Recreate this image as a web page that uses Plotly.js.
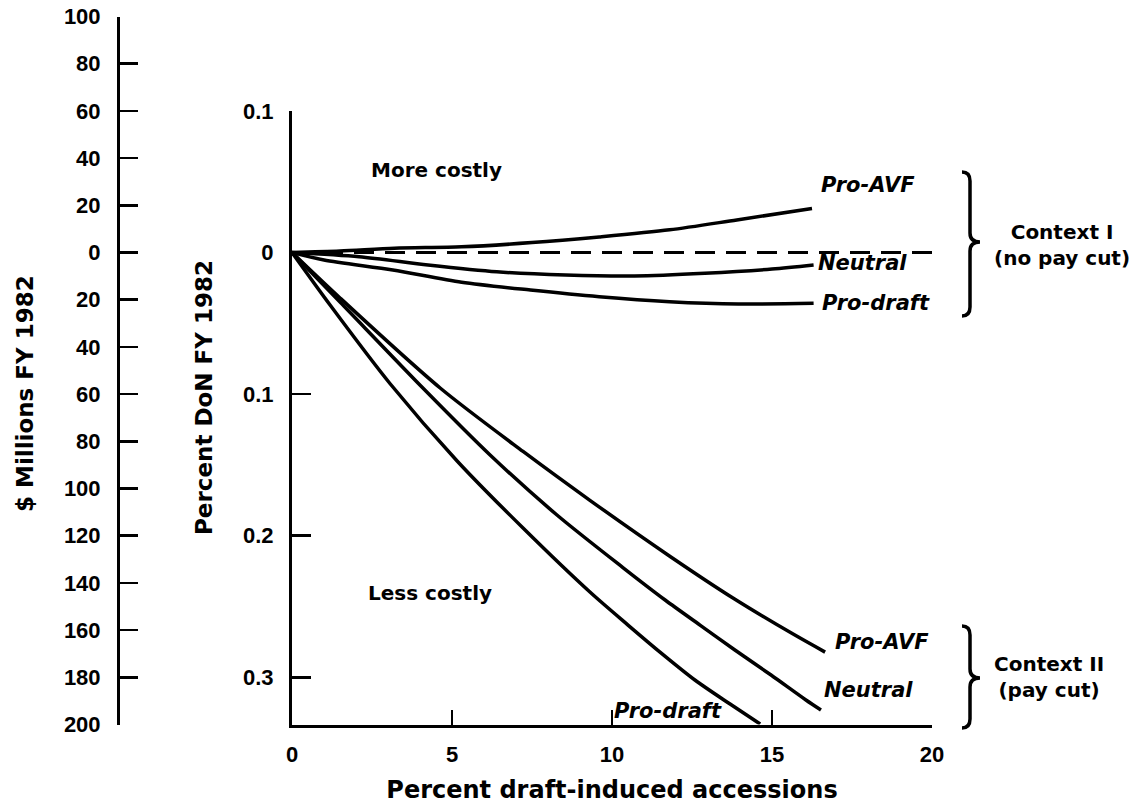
<!DOCTYPE html>
<html>
<head>
<meta charset="utf-8">
<script src="https://cdn.plot.ly/plotly-3.0.1.min.js"></script>
<style>html,body{margin:0;padding:0;background:#fff;}#chart{width:1135px;height:811px;}</style>
</head>
<body>
<div id="chart"></div>
<script>
// ---- data ----
const xTicks = [0, 5, 10, 15, 20];
const donTickVals = [0.1, 0, -0.1, -0.2, -0.3];
const donTickText = ['0.1', '0', '0.1', '0.2', '0.3'];
const usdTickVals = [100, 80, 60, 40, 20, 0, -20, -40, -60, -80, -100, -120, -140, -160, -180, -200];
const usdTickText = ['100', '80', '60', '40', '20', '0', '20', '40', '60', '80', '100', '120', '140', '160', '180', '200'];

const zeroLineX = [0, 20];
const zeroLineY = [0, 0];

// Context I (no pay cut)
const c1ProAvfX = [0, 1.5, 3.2, 5.3, 7.5, 9.6, 11.8, 13.9, 16.25];
const c1ProAvfY = [0, 0.001, 0.003, 0.004, 0.007, 0.011, 0.016, 0.023, 0.031];
const c1NeutralX = [0, 2.1, 4.25, 6.4, 8.55, 10.7, 12.9, 15.0, 16.3];
const c1NeutralY = [0, -0.003, -0.0088, -0.0136, -0.0159, -0.0166, -0.0147, -0.0117, -0.0088];
const c1ProDraftX = [0, 1.0, 3.15, 5.3, 7.45, 9.6, 11.8, 13.95, 16.3];
const c1ProDraftY = [0, -0.0053, -0.0124, -0.021, -0.0265, -0.0312, -0.0347, -0.0364, -0.0359];

// Context II (pay cut)
const c2ProAvfX = [0, 1.5, 4.63, 7.22, 9.31, 11.84, 13.78, 15.66, 16.66];
const c2ProAvfY = [0, -0.0321, -0.0957, -0.1405, -0.175, -0.215, -0.244, -0.2695, -0.2822];
const c2NeutralX = [0, 1.5, 4.09, 6.19, 8.28, 10.34, 11.66, 12.75, 13.84, 14.97, 16.06, 16.53];
const c2NeutralY = [0, -0.035, -0.0957, -0.143, -0.1854, -0.2225, -0.2454, -0.2631, -0.2807, -0.2984, -0.316, -0.3231];
const c2ProDraftX = [0, 1.19, 3.06, 5.16, 7.22, 9.31, 10.5, 11.5, 12.59, 13.69, 14.63];
const c2ProDraftY = [0, -0.0371, -0.0925, -0.1472, -0.1946, -0.2398, -0.2631, -0.2822, -0.3019, -0.3189, -0.333];

// ---- layout helpers (pixel -> paper) ----
const W = 1135, H = 811;
const PX = v => v / W;
const PY = v => 1 - v / H;
const FONT = 'DejaVu Sans, Liberation Sans, Arial, sans-serif';
const TICKFONT = 'Liberation Sans, Arial, Helvetica, sans-serif';

function curve(x, y) {
  return {
    x: x, y: y, xaxis: 'x', yaxis: 'y2', type: 'scatter', mode: 'lines',
    line: {color: '#000', width: 3.5, shape: 'spline', smoothing: 0.8},
    hoverinfo: 'skip', showlegend: false, cliponaxis: false
  };
}

const traces = [
  {x: zeroLineX, y: zeroLineY, xaxis: 'x', yaxis: 'y', type: 'scatter', mode: 'lines',
   line: {color: '#000', width: 2.8, dash: '20px,11px'}, hoverinfo: 'skip', showlegend: false},
  curve(c1ProAvfX, c1ProAvfY),
  curve(c1NeutralX, c1NeutralY),
  curve(c1ProDraftX, c1ProDraftY),
  curve(c2ProAvfX, c2ProAvfY),
  curve(c2NeutralX, c2NeutralY),
  curve(c2ProDraftX, c2ProDraftY)
];

function pathFrom(list) {
  let s = '';
  let i = 0;
  while (i < list.length) {
    const c = list[i++];
    s += c;
    const coords = [];
    while (i < list.length && typeof list[i] !== 'string') coords.push(list[i++]);
    for (let k = 0; k < coords.length; k += 2) s += ' ' + coords[k].toFixed(5) + ',' + coords[k + 1].toFixed(5);
    s += ' ';
  }
  return s.trim();
}
function bracePath(xl, xm, xt, yTop, yTip, yBot) {
  const r = 9;
  return pathFrom([
    'M', PX(xl), PY(yTop),
    'Q', PX(xm), PY(yTop), PX(xm), PY(yTop + r),
    'L', PX(xm), PY(yTip - r),
    'Q', PX(xm), PY(yTip), PX(xt), PY(yTip),
    'Q', PX(xm), PY(yTip), PX(xm), PY(yTip + r),
    'L', PX(xm), PY(yBot - r),
    'Q', PX(xm), PY(yBot), PX(xl), PY(yBot)
  ]);
}

const shapes = [
  {type: 'path', xref: 'paper', yref: 'paper', path: bracePath(962, 970, 980, 172, 242, 316),
   line: {color: '#000', width: 3.5}},
  {type: 'path', xref: 'paper', yref: 'paper', path: bracePath(962, 970, 980, 626, 678, 728),
   line: {color: '#000', width: 3.5}}
];

function ann(text, x, y, size, italic, extra) {
  return Object.assign({
    text: text, x: PX(x), y: PY(y), xref: 'paper', yref: 'paper', showarrow: false,
    xanchor: 'center', yanchor: 'middle',
    font: {family: FONT, size: size, color: '#000', weight: 'bold', style: italic ? 'italic' : 'normal'}
  }, extra || {});
}

const annotations = [
  ann('$ Millions FY 1982', 25, 394, 23, false, {textangle: -90}),
  ann('Percent DoN FY 1982', 204, 398, 23, false, {textangle: -90}),
  ann('More costly', 436, 170, 20, false),
  ann('Less costly', 430, 593, 20, false),
  ann('Pro-AVF', 868, 185, 21, true),
  ann('Neutral', 862, 263, 21, true),
  ann('Pro-draft', 876, 303, 21, true),
  ann('Pro-AVF', 882, 642, 21, true),
  ann('Neutral', 868, 690, 21, true),
  ann('Pro-draft', 668, 711, 21, true),
  ann('Context I<br>(no pay cut)', 1062, 245, 20, false),
  ann('Context II<br>(pay cut)', 1049, 677, 20, false)
];

const axisFont = {family: TICKFONT, size: 22, color: '#000', weight: 'bold'};

const layout = {
  width: W, height: H,
  margin: {l: 0, r: 0, t: 0, b: 0, pad: 0},
  paper_bgcolor: '#fff', plot_bgcolor: 'rgba(0,0,0,0)',
  showlegend: false,
  xaxis: {
    domain: [PX(292), PX(932)], range: [0, 20], anchor: 'y2',
    tickmode: 'array', tickvals: xTicks, ticktext: xTicks.map(String),
    ticks: 'inside', ticklen: 15, tickwidth: 2.5, tickcolor: '#000',
    showline: true, linewidth: 3, linecolor: '#000',
    showgrid: false, zeroline: false, tickfont: axisFont, ticklabelstandoff: 8,
    title: {text: 'Percent draft-induced accessions', font: {family: FONT, size: 24, color: '#000', weight: 'bold'}, standoff: 16}
  },
  yaxis: {
    domain: [PY(724.5), PY(16.5)], range: [-200, 100], anchor: 'free', position: PX(118), side: 'left',
    tickmode: 'array', tickvals: usdTickVals, ticktext: usdTickText,
    ticks: 'inside', ticklen: 18, tickwidth: 2.5, tickcolor: '#000',
    showline: true, linewidth: 3, linecolor: '#000',
    showgrid: false, zeroline: false, tickfont: axisFont, ticklabelstandoff: 12
  },
  yaxis2: {
    domain: [PY(724.5), PY(110.9)], range: [-1 / 3, 0.1], anchor: 'x', side: 'left',
    tickmode: 'array', tickvals: donTickVals, ticktext: donTickText,
    ticks: 'inside', ticklen: 19, tickwidth: 2.5, tickcolor: '#000',
    showline: true, linewidth: 3, linecolor: '#000',
    showgrid: false, zeroline: false, tickfont: axisFont, ticklabelstandoff: 11
  },
  shapes: shapes,
  annotations: annotations
};

Plotly.newPlot('chart', traces, layout, {staticPlot: true, displayModeBar: false});
</script>
</body>
</html>
